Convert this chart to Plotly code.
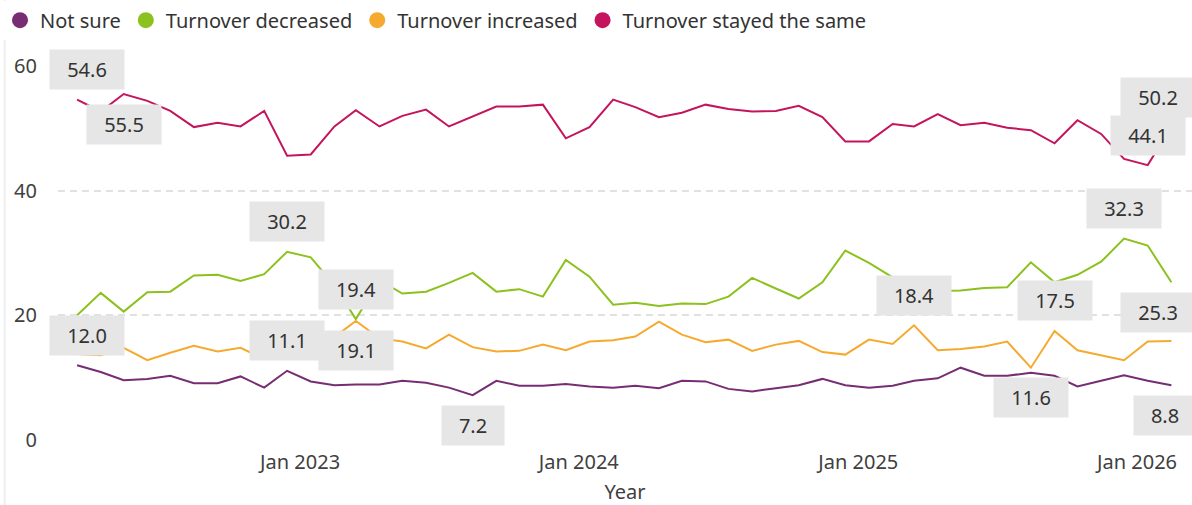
import plotly.graph_objects as go
import pandas as pd

# ---- data ----
months = pd.date_range("2022-03-01", periods=48, freq="MS") + pd.Timedelta(days=14)
months = [d.strftime("%Y-%m-%d") for d in months]

not_sure = [12.0, 10.9, 9.6, 9.8, 10.3, 9.1, 9.1, 10.2, 8.4, 11.1,
            9.4, 8.8, 8.9, 8.9, 9.5, 9.2, 8.4, 7.2, 9.5, 8.7,
            8.7, 9.0, 8.6, 8.4, 8.7, 8.3, 9.5, 9.4, 8.2, 7.8,
            8.3, 8.8, 9.8, 8.8, 8.4, 8.7, 9.5, 9.9, 11.6, 10.3,
            10.3, 10.8, 10.3, 8.6, 9.5, 10.4, 9.5, 8.8]

decreased = [20.0, 23.6, 20.6, 23.7, 23.8, 26.4, 26.5, 25.5, 26.6, 30.2,
             29.3, 24.8, 19.4, 25.6, 23.5, 23.8, 25.2, 26.8, 23.8, 24.2,
             23.0, 28.9, 26.2, 21.7, 22.0, 21.5, 21.9, 21.8, 23.0, 26.0,
             24.3, 22.7, 25.3, 30.4, 28.4, 26.1, 24.0, 23.9, 24.0, 24.4,
             24.5, 28.5, 25.3, 26.5, 28.6, 32.3, 31.2, 25.3]

increased = [13.8, 13.6, 14.8, 12.8, 14.0, 15.1, 14.2, 14.8, 13.0, 13.4,
             13.8, 16.5, 19.1, 16.3, 15.8, 14.7, 16.9, 14.9, 14.2, 14.3,
             15.3, 14.4, 15.8, 16.0, 16.6, 19.0, 16.9, 15.7, 16.1, 14.3,
             15.3, 15.9, 14.1, 13.7, 16.1, 15.4, 18.4, 14.4, 14.6, 15.0,
             15.8, 11.6, 17.5, 14.4, 13.6, 12.8, 15.8, 15.9]

same = [54.6, 52.7, 55.5, 54.4, 52.8, 50.2, 50.9, 50.3, 52.8, 45.6,
        45.8, 50.3, 52.9, 50.3, 52.0, 53.0, 50.3, 51.9, 53.5, 53.5,
        53.8, 48.4, 50.2, 54.6, 53.4, 51.8, 52.5, 53.8, 53.1, 52.7,
        52.8, 53.6, 51.8, 47.9, 47.9, 50.7, 50.3, 52.3, 50.5, 50.9,
        50.1, 49.7, 47.6, 51.3, 49.1, 45.1, 44.1, 50.2]

series_names = ["Not sure", "Turnover decreased", "Turnover increased", "Turnover stayed the same"]
series_values = [not_sure, decreased, increased, same]

# indices of points that carry a data label
label_idx_not_sure = [0, 9, 17, 47]
label_idx_decreased = [9, 12, 45, 47]
label_idx_increased = [12, 36, 41, 42]
label_idx_same = [0, 2, 46, 47]
label_indices = [label_idx_not_sure, label_idx_decreased, label_idx_increased, label_idx_same]

tick_dates = ["2023-01-01", "2024-01-01", "2025-01-01", "2026-01-01"]
x_title = "Year"

# ---- style ----
colors = ["#772D73", "#8CC11E", "#F5AA2F", "#C4145D"]
FONT = "Segoe UI, Noto Sans, Open Sans, sans-serif"
FS = 20
# label placement: vertical side (+1 above, -1 below)
label_side = [[1, 1, -1, -1], [1, 1, 1, -1], [-1, 1, -1, 1], [1, -1, 1, 1]]

fig = go.Figure()
for name, vals, col in zip(series_names, series_values, colors):
    fig.add_trace(go.Scatter(x=months, y=vals, mode="lines", name=name,
                             line=dict(color=col, width=2), showlegend=False))
for name, col in zip(series_names, colors):
    fig.add_trace(go.Scatter(x=[None], y=[None], mode="markers", name=name,
                             marker=dict(color=col, size=17, symbol="circle")))

n = len(months)
for s, (vals, idxs) in enumerate(zip(series_values, label_indices)):
    for k, i in enumerate(idxs):
        txt = f"{vals[i]:.1f}"
        xs = 0
        if i == 0:
            xs = 10
        elif i == n - 1:
            xs = -13 if len(txt) > 3 else -6
        fig.add_annotation(x=months[i], y=vals[i], text=txt, showarrow=False,
                           xshift=xs, yshift=30 * label_side[s][k],
                           bgcolor="#E6E6E6", borderpad=6,
                           width=62 if len(txt) > 3 else 50,
                           font=dict(family=FONT, size=FS, color="#333333"))

fig.update_layout(
    width=1192, height=505,
    margin=dict(l=58, r=0, t=66, b=63),
    paper_bgcolor="white", plot_bgcolor="white",
    font=dict(family=FONT, size=FS, color="#404040"),
    showlegend=True,
    legend=dict(orientation="h", xref="container", yref="container",
                x=0.0, y=0.96, xanchor="left", yanchor="middle",
                font=dict(family=FONT, size=FS, color="#333333"),
                itemwidth=30, tracegroupgap=0, traceorder="normal"),
    xaxis=dict(type="date", range=["2022-02-18", "2026-03-14"],
               tickvals=tick_dates, tickformat="%b %Y",
               showgrid=False, zeroline=False, showline=False,
               ticklabelstandoff=8,
               tickfont=dict(family=FONT, size=FS, color="#404040"),
               title=dict(text=x_title, font=dict(family=FONT, size=FS, color="#404040"), standoff=16)),
    yaxis=dict(range=[0, 60], tickvals=[0, 20, 40, 60],
               showgrid=True, gridcolor="#E1E1E1", gridwidth=1.5, griddash="7px,5px",
               zeroline=False, showline=False, ticklabelstandoff=20,
               tickfont=dict(family=FONT, size=FS, color="#404040")),
)
fig.add_shape(type="line", xref="paper", yref="paper", x0=-0.047, x1=-0.047, y0=-0.2, y1=1.2,
              line=dict(color="#EEEEEE", width=2))

fig.write_html("out.html", config={"displayModeBar": False},
               post_script="document.body.style.margin='0px';")
